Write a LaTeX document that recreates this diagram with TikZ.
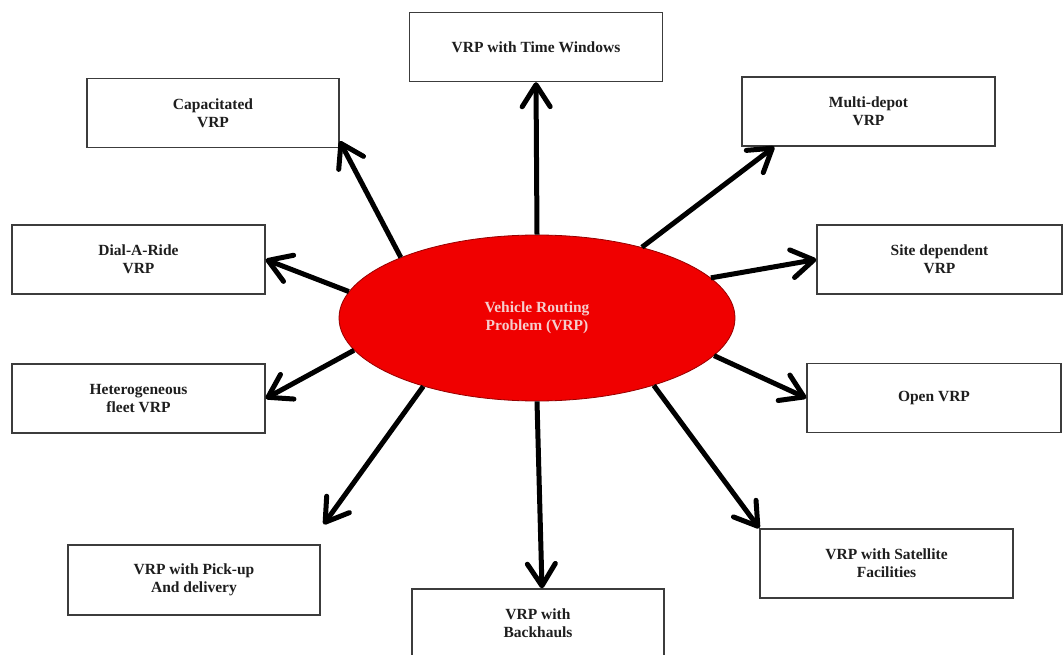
\documentclass[tikz,border=0pt]{standalone}
\usepackage{fontspec}
\setmainfont{Liberation Serif}
\usetikzlibrary{arrows.meta,shapes.geometric,calc}
\definecolor{boxline}{RGB}{60,60,60}
\definecolor{boxtext}{RGB}{30,30,30}
\definecolor{vrpred}{RGB}{240,0,0}
\definecolor{vrpedge}{RGB}{150,0,0}
\definecolor{vrptext}{RGB}{245,205,205}
\begin{document}
\begin{tikzpicture}[x=1pt,y=-1pt,
  box/.style={draw=boxline, line width=1.4pt, fill=white, minimum width=253pt,
    minimum height=69pt, inner sep=0pt, align=center,
    font=\fontsize{15.5}{18}\selectfont\bfseries, text=boxtext},
  link/.style={line width=5pt, -{Straight Barb[length=22pt,width=28pt,round]}},
  hub/.style={ellipse, draw=vrpedge, line width=0.8pt, fill=vrpred,
    minimum width=396pt, minimum height=166pt, inner sep=0pt, align=center,
    font=\fontsize{15.5}{18}\selectfont\bfseries, text=vrptext}]
\fill[white] (0,0) rectangle (1063,655);
\useasboundingbox (0,0) rectangle (1063,655);
\clip (0,0) rectangle (1063,655);

\node[hub] (vrp) at (537,318) {Vehicle Routing\\Problem (VRP)};

\node[box] (tw) at (536,47) {VRP with Time Windows};
\node[box, minimum width=252pt] (cap) at (213,113) {Capacitated\\VRP};
\node[box] (md) at (868.5,111.5) {Multi-depot\\VRP};
\node[box] (dar) at (138.5,259.5) {Dial-A-Ride\\VRP};
\node[box, minimum width=245pt] (sd) at (939.5,259.5) {Site dependent\\VRP};
\node[box, minimum width=254pt] (open) at (934,398) {Open VRP};
\node[box] (het) at (138.5,398.5) {Heterogeneous\\fleet VRP};
\node[box, minimum width=252pt, minimum height=70pt] (pu) at (194,580) {VRP with Pick-up\\And delivery};
\node[box] (sat) at (886.5,563.5) {VRP with Satellite\\Facilities};
\node[box, minimum width=252pt] (bh) at (538,623.5) {VRP with\\Backhauls};

\draw[link] (vrp.90) -- (tw.south);
\draw[link] (vrp.156) -- ($(cap.south east)+(0,-7)$);
\draw[link] (vrp.34) -- ($(md.south west)+(33,0)$);
\draw[link] (vrp.172) -- (dar.east);
\draw[link] (vrp.13) -- (sd.west);
\draw[link] (vrp.190) -- (het.east);
\draw[link] (vrp.348) -- (open.west);
\draw[link] (vrp.211) -- ($(pu.north east)+(3,-20)$);
\draw[link] (vrp.270) -- ($(bh.north)+(4,0)$);
\draw[link] (vrp.330) -- (sat.north west);
\end{tikzpicture}
\end{document}
